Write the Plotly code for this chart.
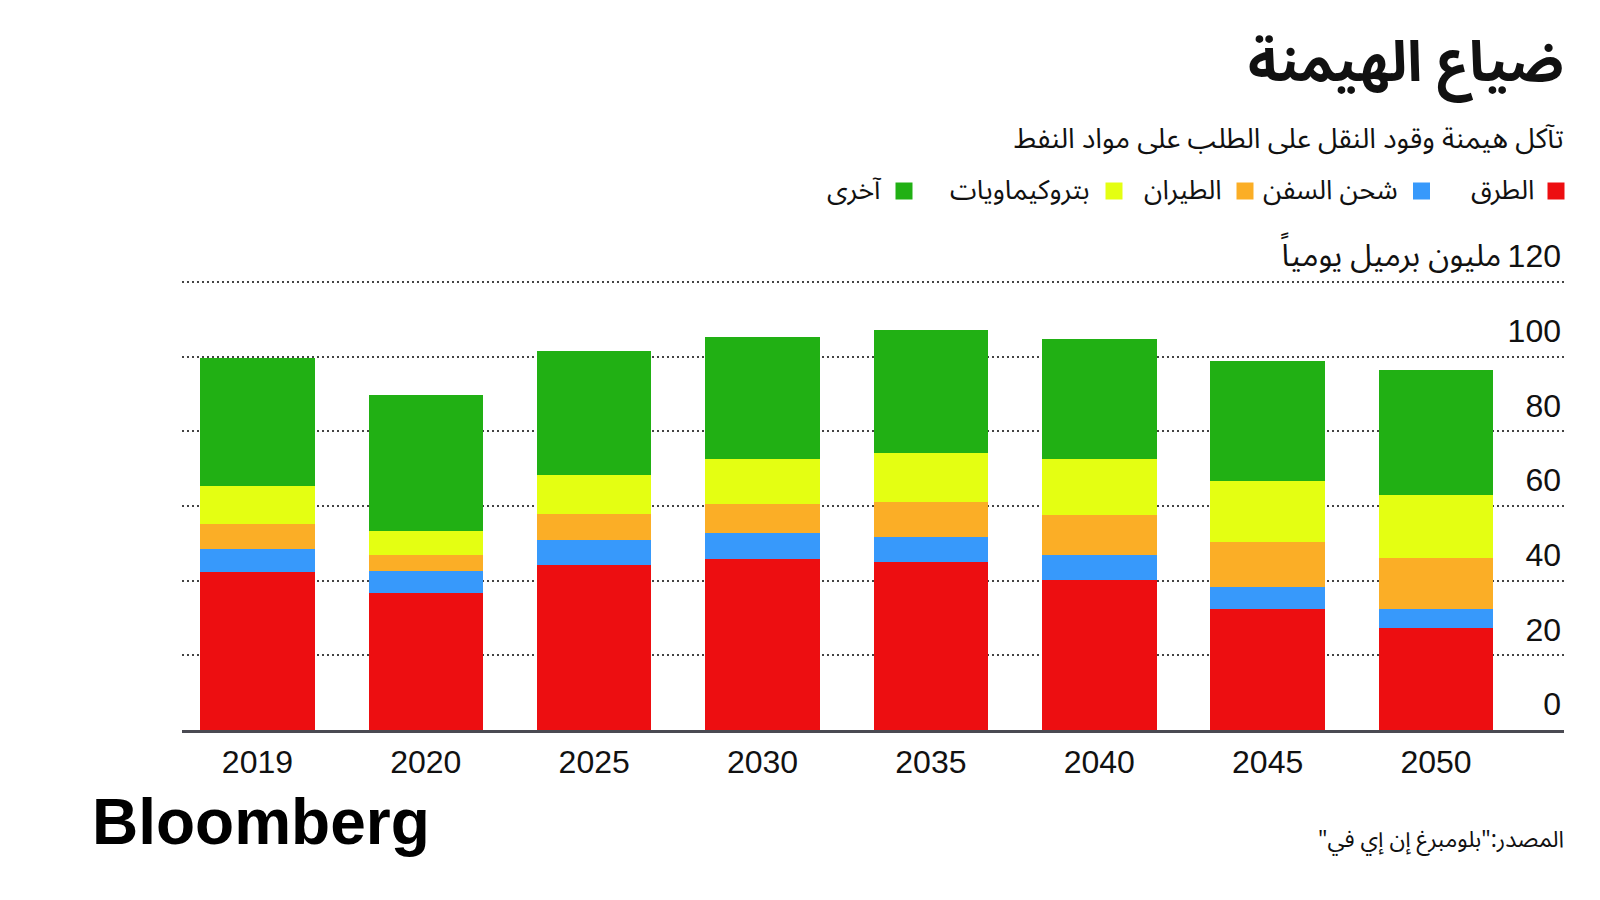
import plotly.graph_objects as go

# ---------------- data ----------------
years = ["2019", "2020", "2025", "2030", "2035", "2040", "2045", "2050"]
road = [42.3, 36.6, 44.1, 45.9, 45.0, 40.2, 32.4, 27.3]
shipping = [6.2, 6.0, 6.8, 6.8, 6.6, 6.6, 6.0, 5.1]
aviation = [6.8, 4.2, 6.9, 7.8, 9.4, 10.7, 11.9, 13.7]
petchem = [10.0, 6.5, 10.5, 12.1, 13.3, 15.1, 16.3, 16.8]
other = [34.4, 36.6, 33.3, 32.8, 33.0, 32.3, 32.3, 33.6]

series_names = ["الطرق", "شحن السفن", "الطيران", "بتروكيماويات", "آخرى"]
series_values = [road, shipping, aviation, petchem, other]
series_colors = ["#ED0E11", "#3799FB", "#FBAE26", "#E4FF12", "#21B014"]

y_tickvals = [0, 20, 40, 60, 80, 100, 120]
y_ticktext = ["0", "20", "40", "60", "80", "100", "120"]
y_unit_text = "مليون برميل يومياً"
y_unit_at = 120

RLE, PDF = "\u202b", "\u202c"
title_text = "ضياع الهيمنة"
subtitle_text = "تآكل هيمنة وقود النقل على الطلب على مواد النفط"
source_text = RLE + "المصدر:\"بلومبرغ إن إي في\"" + PDF
logo_text = "Bloomberg"

# ---------------- layout helpers ----------------
W, H = 1600, 900
ML, MR, MT, MB = 182, 36, 230, 170
PW, PH = W - ML - MR, H - MT - MB


def px2x(px):
    return (px - ML) / PW


def py2y(py):
    return (H - MB - py) / PH


AR_FONT = "Noto Sans Arabic, DejaVu Sans, sans-serif"
NUM_FONT = "Liberation Sans, Arial, sans-serif"
LOGO_FONT = "Liberation Sans, Arial, sans-serif"

fig = go.Figure()
for name, vals, col in zip(series_names, series_values, series_colors):
    fig.add_trace(go.Bar(
        x=years, y=vals, name=name,
        marker=dict(color=col, line=dict(width=0)),
        showlegend=False,
    ))

annotations = []
shapes = []

# title / subtitle
annotations.append(dict(text="<b>" + title_text + "</b>", xref="paper", yref="paper",
                        x=px2x(1566), y=py2y(63), xanchor="right", yanchor="middle",
                        showarrow=False, font=dict(family=AR_FONT, size=56, color="#111111")))
annotations.append(dict(text=subtitle_text, xref="paper", yref="paper",
                        x=px2x(1566), y=py2y(139), xanchor="right", yanchor="middle",
                        showarrow=False, font=dict(family=AR_FONT, size=28, color="#111111")))

# custom right-to-left legend
sq_centers = [1556, 1421.5, 1245, 1114, 904]
txt_right = [1536, 1400, 1224, 1092, 884]
ly = 191
for name, col, cx, tr in zip(series_names, series_colors, sq_centers, txt_right):
    shapes.append(dict(type="rect", xref="paper", yref="paper",
                       x0=px2x(cx - 8.5), x1=px2x(cx + 8.5),
                       y0=py2y(ly + 8.5), y1=py2y(ly - 8.5),
                       fillcolor=col, line=dict(width=0)))
    annotations.append(dict(text=name, xref="paper", yref="paper",
                            x=px2x(tr), y=py2y(ly), xanchor="right", yanchor="middle",
                            showarrow=False, font=dict(family=AR_FONT, size=27, color="#111111")))

# unit label next to the top tick
annotations.append(dict(text=y_unit_text, xref="paper", yref="y",
                        x=px2x(1503), y=y_unit_at, yshift=26,
                        xanchor="right", yanchor="middle", showarrow=False,
                        font=dict(family=AR_FONT, size=31, color="#111111")))

# footer
annotations.append(dict(text="<b>" + logo_text + "</b>", xref="paper", yref="paper",
                        x=px2x(90), y=py2y(822), xanchor="left", yanchor="middle",
                        showarrow=False, font=dict(family=LOGO_FONT, size=64, color="#000000")))
annotations.append(dict(text=source_text, xref="paper", yref="paper",
                        x=px2x(1566), y=py2y(839), xanchor="right", yanchor="middle",
                        showarrow=False, font=dict(family=AR_FONT, size=23, color="#111111")))

fig.update_layout(
    width=W, height=H,
    margin=dict(l=ML, r=MR, t=MT, b=MB, pad=0),
    paper_bgcolor="white", plot_bgcolor="white",
    barmode="stack", bargap=0.32,
    annotations=annotations, shapes=shapes,
    showlegend=False,
)

fig.update_xaxes(
    type="category", range=[-0.448, 7.76],
    showline=True, linecolor="#4a4a52", linewidth=2.5,
    showgrid=False, ticks="", ticklabelstandoff=2,
    tickfont=dict(family=NUM_FONT, size=32, color="#111111"),
)
fig.update_yaxes(
    range=[0, 134], side="right",
    tickvals=y_tickvals, ticktext=y_ticktext,
    ticklabelposition="inside", ticklabelshift=-26, ticklabelstandoff=0,
    showgrid=True, gridcolor="#444444", gridwidth=1.5, griddash="2px,3px",
    zeroline=False, showline=False, ticks="",
    tickfont=dict(family=NUM_FONT, size=32, color="#111111"),
)

fig.write_html("out.html", config={"displayModeBar": False},
               post_script="document.body.style.margin='0px';")
